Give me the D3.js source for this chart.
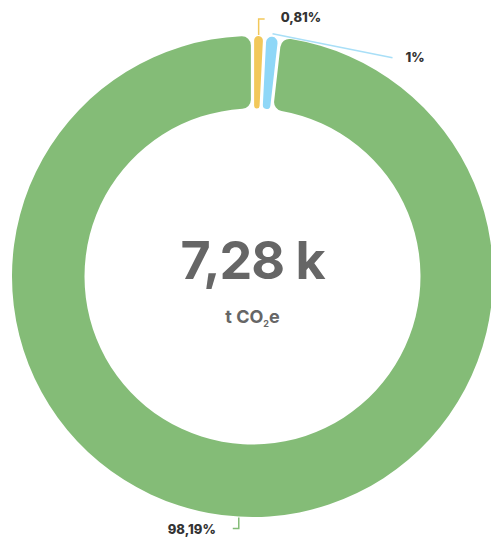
<!DOCTYPE html>
<html>
<head>
<meta charset="utf-8">
<script src="https://cdn.jsdelivr.net/npm/d3@7"></script>
<style>
  html, body { margin: 0; padding: 0; background: #ffffff; }
  svg { display: block; }
  text { font-family: "Inter", "Lato", sans-serif; }
</style>
</head>
<body>
<svg id="chart" width="491" height="540"></svg>
<script>
// ---- data ----
const categories = ["Catégorie A", "Catégorie B", "Catégorie C"];
const values = [0.81, 1, 98.19];
const labels = ["0,81%", "1%", "98,19%"];
const colors = ["#f2c85a", "#8fd7f7", "#84bc77"];
const lineColors = ["#f2c85a", "#a9dff7", "#84bc77"];
const totalLabel = "7,28 k";
const unitLabel = ["t CO", "2", "e"];

// ---- layout ----
const W = 491, H = 540;
const cx = 252.5, cy = 276.5;
const R = 240.5, r = 168;

const svg = d3.select("#chart");
const g = svg.append("g").attr("transform", `translate(${cx},${cy})`);

const pie = d3.pie().sort(null).value(d => d)(values);
const arc = d3.arc().innerRadius(r).outerRadius(R).padAngle(0.011).cornerRadius(9);

g.selectAll("path.slice")
  .data(pie)
  .join("path")
  .attr("class", "slice")
  .attr("d", arc)
  .attr("fill", (d, i) => colors[i]);

// leader lines & labels
function pt(a, rad) { return [rad * Math.sin(a), -rad * Math.cos(a)]; }

pie.forEach((d, i) => {
  const mid = (d.startAngle + d.endAngle) / 2;
  const p0 = pt(mid, R + 1);
  let pts, lx, ly, anchor;
  if (i === 0) {
    const p1 = [p0[0], p0[1] - 16];
    const p2 = [p1[0] + 6, p1[1]];
    pts = [p0, p1, p2];
    lx = p2[0] + 16; ly = p2[1] - 2; anchor = "start";
  } else if (i === 1) {
    const p0b = pt(mid, R + 3);
    const p1 = [p0b[0] + 120, p0b[1] + 24];
    pts = [p0b, p1];
    lx = p1[0] + 13; ly = p1[1]; anchor = "start";
  } else {
    const p1 = [p0[0], p0[1] + 11];
    const p2 = [p1[0] - 6, p1[1]];
    pts = [p0, p1, p2];
    lx = p2[0] - 17; ly = p2[1] + 1; anchor = "end";
  }
  g.append("path")
    .attr("d", d3.line()(pts))
    .attr("fill", "none")
    .attr("stroke", lineColors[i])
    .attr("stroke-width", 1.5);
  g.append("text")
    .attr("x", lx).attr("y", ly)
    .attr("dy", "0.35em")
    .attr("text-anchor", anchor)
    .attr("font-size", 13)
    .attr("font-weight", 800)
    .attr("fill", "#333333")
    .text(labels[i]);
});

// centre text
g.append("text")
  .attr("x", 0).attr("y", 2)
  .attr("text-anchor", "middle")
  .attr("font-size", 52)
  .attr("font-weight", 700)
  .attr("fill", "#666666")
  .attr("letter-spacing", -1)
  .text(totalLabel);

const unit = g.append("text")
  .attr("x", 0).attr("y", 46)
  .attr("text-anchor", "middle")
  .attr("font-size", 18)
  .attr("font-weight", 700)
  .attr("fill", "#666666");
unit.append("tspan").text(unitLabel[0]);
unit.append("tspan").attr("font-size", 9).attr("dy", 4).text(unitLabel[1]);
unit.append("tspan").attr("dy", -4).text(unitLabel[2]);
</script>
</body>
</html>
